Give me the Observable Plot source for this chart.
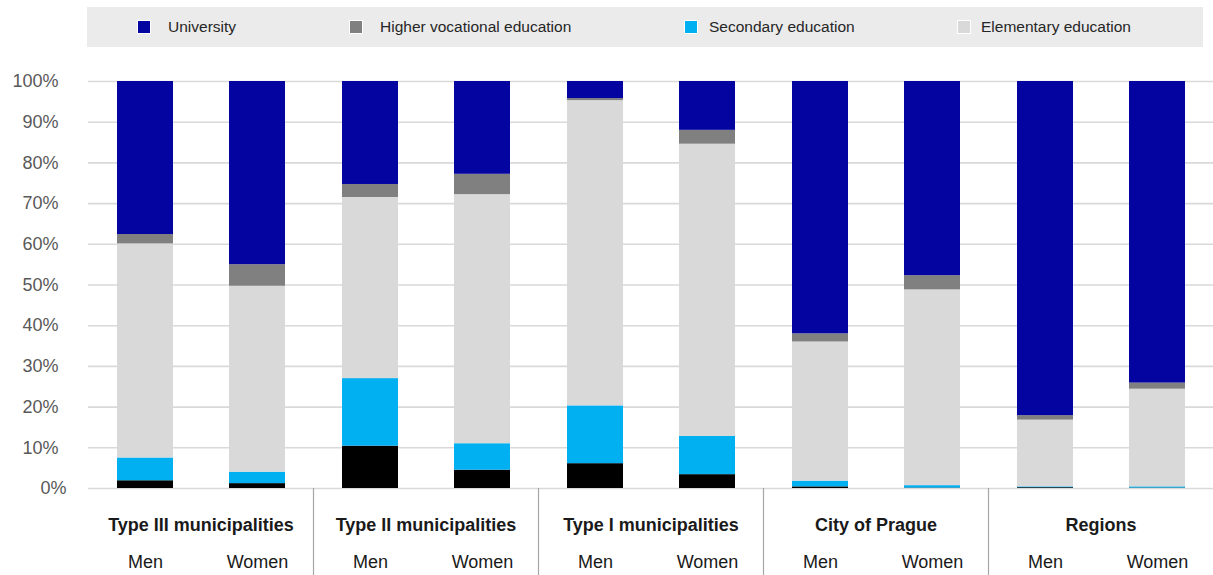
<!DOCTYPE html>
<html>
<head>
<meta charset="utf-8">
<script src="https://cdn.jsdelivr.net/npm/d3@7"></script>
<script src="https://cdn.jsdelivr.net/npm/@observablehq/plot@0.6"></script>
<style>
  body { margin: 0; background: #fff; font-family: "Liberation Sans", Arial, sans-serif; }
  #legend { position: relative; width: 1213px; height: 50px; }
  #legend .band { position: absolute; left: 87px; top: 7px; width: 1116px; height: 40px; background: #ebebeb; }
  #legend .item { position: absolute; top: 0; height: 40px; display: flex; align-items: center;
                  font-size: 15.5px; color: #262626; white-space: nowrap; }
  #legend .sw { width: 12px; height: 12px; border: 1px solid #fff; box-sizing: content-box; }
  #chart svg { display: block; }
</style>
</head>
<body>
<div id="legend"><div class="band"></div></div>
<div id="chart"></div>
<script>
// Groups of bars and the two bars inside each group
const groups = ["Type III municipalities", "Type II municipalities", "Type I municipalities", "City of Prague", "Regions"];
const sexes = ["Men", "Women"];

// Stacked series, bottom to top (share in %), one value per bar:
// Type III M, Type III W, Type II M, Type II W, Type I M, Type I W, Prague M, Prague W, Regions M, Regions W
const seriesNames = ["Other", "Secondary education", "Elementary education", "Higher vocational education", "University"];
const other      = [1.9, 1.2, 10.4, 4.5, 6.1, 3.4, 0.4, 0.1, 0.2, 0.1];
const secondary  = [5.6, 2.8, 16.6, 6.5, 14.2, 9.4, 1.4, 0.6, 0.2, 0.3];
const elementary = [52.6, 45.7, 44.5, 61.2, 75.0, 71.8, 34.2, 48.1, 16.4, 24.0];
const higherVoc  = [2.3, 5.3, 3.2, 5.0, 0.5, 3.4, 2.0, 3.5, 1.1, 1.5];
const university = [37.6, 45.0, 25.3, 22.8, 4.2, 12.0, 62.0, 47.7, 82.1, 74.1];

// Legend entries (the "Other" series has none)
const legendNames = ["University", "Higher vocational education", "Secondary education", "Elementary education"];

const yTicks = [0, 10, 20, 30, 40, 50, 60, 70, 80, 90, 100];

const seriesColors = {
  "Other": "#000000",
  "Secondary education": "#00b0f0",
  "Elementary education": "#d9d9d9",
  "Higher vocational education": "#808080",
  "University": "#0404a0"
};

// Long-form table for the stack
const seriesValues = [other, secondary, elementary, higherVoc, university];
const rows = [];
seriesNames.forEach((name, si) => {
  seriesValues[si].forEach((v, i) => {
    rows.push({series: name, group: groups[Math.floor(i / 2)], sex: sexes[i % 2], value: v});
  });
});

// Legend: swatch position and gap to the text, per entry
const legendLeft = [50, 262, 597, 870];
const legendGap = [17, 17, 11, 10];
const band = document.querySelector("#legend .band");
legendNames.forEach((name, i) => {
  const item = document.createElement("div");
  item.className = "item";
  item.style.left = legendLeft[i] + "px";
  const sw = document.createElement("span");
  sw.className = "sw";
  sw.style.background = seriesColors[name];
  sw.style.marginRight = legendGap[i] + "px";
  item.appendChild(sw);
  item.appendChild(document.createTextNode(name));
  band.appendChild(item);
});

const W = 1213, H = 525, ML = 88, MR = 0, MB = 87;

const plot = Plot.plot({
  width: W,
  height: H,
  marginLeft: ML,
  marginRight: MR,
  marginTop: 31,
  marginBottom: MB,
  style: {fontFamily: "'Liberation Sans', Arial, sans-serif", fontSize: "18px", background: "#fff"},
  fx: {domain: groups, padding: 0},
  x: {domain: sexes, paddingInner: 0.5, paddingOuter: 0.25},
  y: {domain: [0, 100]},
  color: {domain: seriesNames, range: seriesNames.map(n => seriesColors[n])},
  marks: [
    Plot.gridY(yTicks, {stroke: "#d9d9d9", strokeOpacity: 1, strokeWidth: 1.6}),
    Plot.barY(rows, {fx: "group", x: "sex", y: "value", fill: "series", order: seriesNames}),
    Plot.axisY(yTicks.filter(d => d > 0), {tickSize: 0, tickPadding: 30, tickFormat: d => d + "%", fill: "#595959", fontSize: 18, label: null}),
    Plot.axisY([0], {tickSize: 0, tickPadding: 22, tickFormat: d => d + "%", fill: "#595959", fontSize: 18, label: null}),
    Plot.axisX({anchor: "bottom", tickSize: 0, tickPadding: 67, fontSize: 18, fill: "#1a1a1a", label: null}),
    Plot.axisFx({anchor: "bottom", tickSize: 0, tickPadding: 30, fontSize: 18, fontWeight: "bold", fill: "#1a1a1a", label: null})
  ]
});

// Vertical separators between groups, from the baseline down to the bottom edge,
// placed at the left edge of each facet band (except the first)
const fxScale = plot.scale("fx");
const yScale = plot.scale("y");
const y0 = yScale.apply(0);
d3.select(plot).append("g")
  .attr("stroke", "#a6a6a6")
  .attr("stroke-width", 1.2)
  .selectAll("line")
  .data(groups.slice(1))
  .join("line")
  .attr("x1", g => Math.round(fxScale.apply(g)) + 0.5)
  .attr("x2", g => Math.round(fxScale.apply(g)) + 0.5)
  .attr("y1", y0)
  .attr("y2", H);

document.getElementById("chart").appendChild(plot);
</script>
</body>
</html>
